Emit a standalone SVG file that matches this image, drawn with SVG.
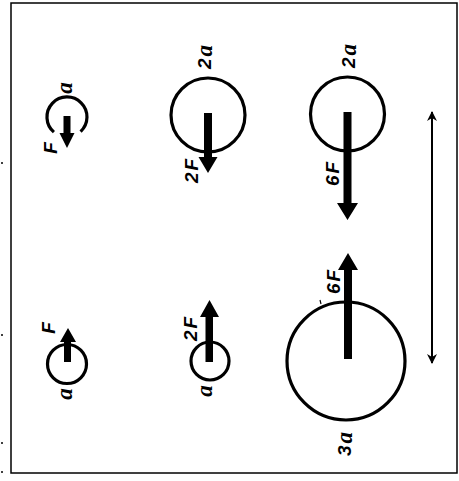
<svg xmlns="http://www.w3.org/2000/svg" width="459" height="481" viewBox="0 0 459 481">
<defs>
<style>
.ring{fill:none;stroke:#000;stroke-width:3.2}
.force{fill:#000;stroke:none}
.lbl{font-family:"Liberation Sans","DejaVu Sans",sans-serif;font-weight:bold;font-style:italic;font-size:19px;letter-spacing:2px;fill:#000;text-anchor:middle;dominant-baseline:central}
.av{font-family:"Liberation Serif",serif;font-style:italic;font-weight:bold;font-size:23px}
.frame{fill:none;stroke:#000;stroke-width:1.5}
</style>
<marker id="dh" viewBox="0 0 10 10" refX="9" refY="5" markerWidth="10" markerHeight="10" markerUnits="userSpaceOnUse" orient="auto-start-reverse">
<path d="M0,0 L10,5 L0,10 L3,5 Z" fill="#000"/>
</marker>
</defs>
<rect width="459" height="481" fill="#fff"/>
<rect class="frame" x="11" y="3" width="446" height="470"/>
<g id="edge-ticks" stroke="#000" stroke-width="1.5">
<line x1="1" y1="163" x2="3" y2="163"/>
<line x1="1" y1="335" x2="3" y2="335"/>
<line x1="1" y1="443" x2="3" y2="443"/>
<line x1="1" y1="472" x2="3" y2="472"/>
</g>
<g id="charge-a-top">
<path class="ring" d="M53.9,132.1 A20,20 0 1 1 80.6,131.6"/>
<path class="force" d="M63.5,116 H70.5 V133 H74.5 L67,148 L59.5,133 H63.5 Z"/>
<text class="lbl" transform="translate(50,147) rotate(-90)">F</text>
<text class="lbl" transform="translate(64,87) rotate(-90)"><tspan class="av">a</tspan></text>
</g>
<g id="charge-2a-mid">
<circle class="ring" cx="208" cy="115" r="37"/>
<path class="force" d="M204,113 H212 V157 H217.5 L208,173 L198.5,157 H204 Z"/>
<text class="lbl" transform="translate(204,56) rotate(-90)">2<tspan class="av">a</tspan></text>
<text class="lbl" transform="translate(191,170) rotate(-90)">2F</text>
</g>
<g id="charge-2a-right">
<circle class="ring" cx="347.5" cy="114" r="37"/>
<path class="force" d="M343.5,112 H351.5 V203 H358 L347.5,220 L337,203 H343.5 Z"/>
<text class="lbl" transform="translate(348,55) rotate(-90)">2<tspan class="av">a</tspan></text>
<text class="lbl" transform="translate(332,173) rotate(-90)">6F</text>
</g>
<g id="charge-a-bottom">
<circle class="ring" cx="67" cy="364" r="19.5"/>
<path class="force" d="M64,362 H71 V342 H76 L68,328 L60,342 H64 Z"/>
<text class="lbl" transform="translate(48,327) rotate(-90)">F</text>
<text class="lbl" transform="translate(64,393) rotate(-90)"><tspan class="av">a</tspan></text>
</g>
<g id="charge-a-mid-bottom">
<circle class="ring" cx="210" cy="361" r="19"/>
<path class="force" d="M205.5,362 H213 V317 H219 L209.5,300 L200,317 H205.5 Z"/>
<text class="lbl" transform="translate(190,328) rotate(-90)">2F</text>
<text class="lbl" transform="translate(204,390) rotate(-90)"><tspan class="av">a</tspan></text>
</g>
<g id="charge-3a">
<circle class="ring" cx="346" cy="361" r="59"/>
<path class="force" d="M344,359 H352 V270 H358 L348,253 L338,270 H344 Z"/>
<text class="lbl" transform="translate(333,281) rotate(-90)">6F</text>
<line x1="320" y1="300" x2="321" y2="304" stroke="#000" stroke-width="1.2"/>
<text class="lbl" transform="translate(344,443) rotate(-90)">3<tspan class="av">a</tspan></text>
</g>
<g id="connectors">
<line x1="432" y1="112" x2="432" y2="363" stroke="#000" stroke-width="2" marker-start="url(#dh)" marker-end="url(#dh)"/>
</g>
</svg>
